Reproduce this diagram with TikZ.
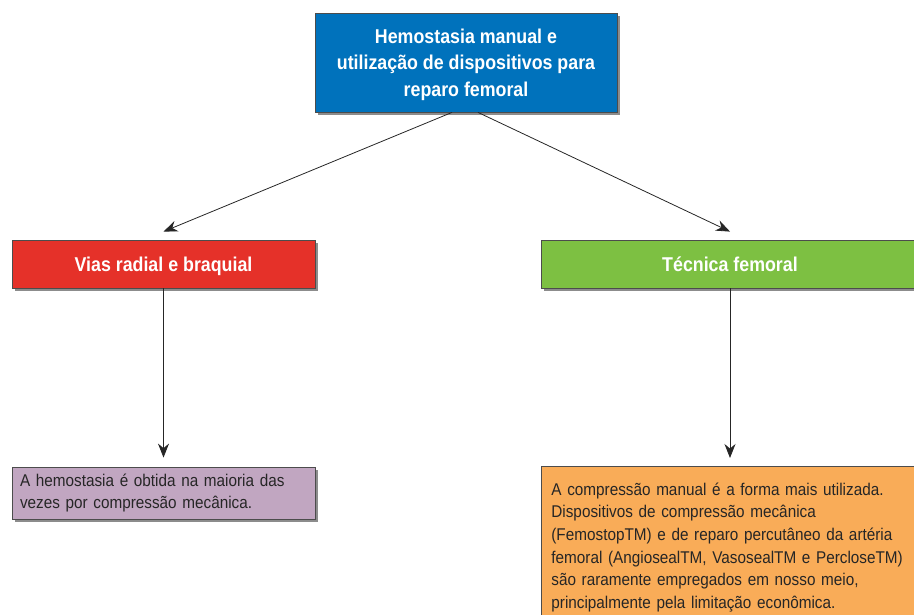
\documentclass[tikz,border=0pt]{standalone}
\usepackage{fontspec}
\setmainfont[FakeStretch=0.90]{Liberation Sans}
\newfontfamily\titlefont[FakeStretch=0.89]{Liberation Sans}
\usetikzlibrary{shadows,arrows.meta}
\definecolor{cblue}{RGB}{0,114,188}
\definecolor{cred}{RGB}{229,49,41}
\definecolor{cgreen}{RGB}{125,192,66}
\definecolor{cpurple}{RGB}{193,166,193}
\definecolor{corange}{RGB}{249,172,88}
\tikzset{
  box/.style={draw=black!70, line width=0.8pt, inner sep=0pt,
    drop shadow={shadow xshift=3pt, shadow yshift=-3pt, fill=black, opacity=0.45}},
  titlebox/.style={box, text=white, font=\titlefont\bfseries\fontsize{20}{26.5}\selectfont, align=center, text depth=0pt},
  textbox/.style={box, text=black!85, font=\fontsize{17}{22.6}\selectfont, align=left, inner xsep=8pt},
  arr/.style={draw=black!85, line width=0.8pt, -{Stealth[length=14pt,width=11pt]}},
}
\begin{document}
\begin{tikzpicture}[x=1pt,y=1pt]
\useasboundingbox (0,0) rectangle (914,614);
\node[titlebox, fill=cblue, minimum width=302pt, minimum height=99pt] (top) at (466,551.5)
  {Hemostasia manual e\\utilização de dispositivos para\\reparo femoral};
\node[titlebox, fill=cred, minimum width=303pt, minimum height=48pt] (red) at (163.5,350)
  {Vias radial e braquial};
\node[titlebox, fill=cgreen, minimum width=378pt, minimum height=48pt] (green) at (730,350)
  {Técnica femoral};
\node[textbox, fill=cpurple, text width=287pt, minimum height=52pt] (purple) at (163.5,121)
  {A hemostasia é obtida na maioria das\\vezes por compressão mecânica.};
\node[textbox, fill=corange, text width=370pt, anchor=north west, inner xsep=10pt, inner ysep=5pt, minimum height=162pt] (orange) at (541,148)
  {A compressão manual é a forma mais utilizada.\\
   Dispositivos de compressão mecânica\\
   (FemostopTM) e de reparo percutâneo da artéria\\
   femoral (AngiosealTM, VasosealTM e PercloseTM)\\
   são raramente empregados em nosso meio,\\
   principalmente pela limitação econômica.};
\draw[arr] ([xshift=-14pt]top.south) -- ([yshift=8pt]red.north);
\draw[arr] ([xshift=12pt]top.south) -- ([yshift=8pt]green.north);
\draw[arr] (red.south) -- ([yshift=9pt]purple.north);
\draw[arr] (green.south) -- ([yshift=8pt]green.south |- orange.north);
\end{tikzpicture}
\end{document}
